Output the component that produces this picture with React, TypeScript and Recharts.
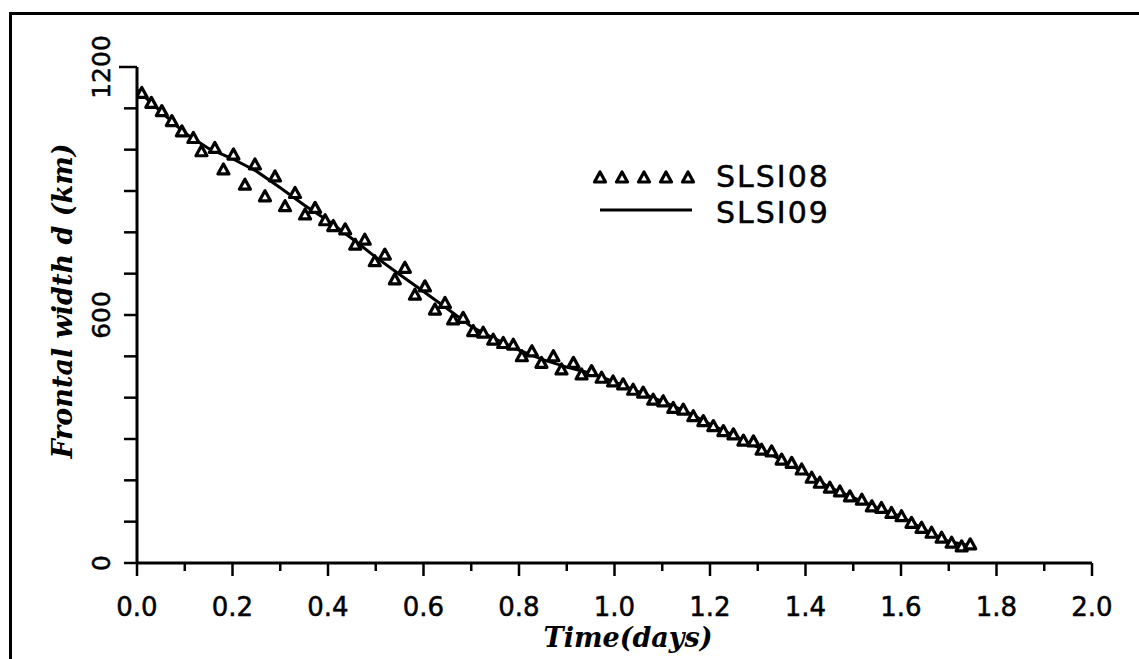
import React from 'react';
import { ComposedChart, Line, Scatter, XAxis, YAxis } from 'recharts';

// SLSI08 (triangles): time (days) and frontal width (km)
const slsi08Time = [0.01, 0.03, 0.052, 0.073, 0.094, 0.118, 0.135, 0.163, 0.181, 0.202, 0.226, 0.247, 0.268, 0.289, 0.31, 0.331, 0.352, 0.373, 0.394, 0.411, 0.436, 0.457, 0.477, 0.498, 0.519, 0.54, 0.561, 0.582, 0.603, 0.624, 0.645, 0.662, 0.683, 0.704, 0.725, 0.746, 0.767, 0.788, 0.806, 0.827, 0.847, 0.872, 0.889, 0.914, 0.931, 0.952, 0.973, 0.997, 1.018, 1.039, 1.06, 1.081, 1.102, 1.123, 1.144, 1.165, 1.186, 1.207, 1.228, 1.249, 1.27, 1.291, 1.308, 1.329, 1.35, 1.371, 1.392, 1.413, 1.43, 1.451, 1.472, 1.493, 1.518, 1.539, 1.559, 1.58, 1.601, 1.622, 1.643, 1.664, 1.685, 1.706, 1.727, 1.745];
const slsi08Width = [1136, 1112, 1092, 1068, 1043, 1027, 995, 1003, 951, 987, 914, 963, 886, 934, 862, 894, 842, 858, 828, 814, 806, 769, 781, 729, 745, 685, 713, 648, 668, 612, 628, 588, 592, 560, 556, 539, 531, 527, 499, 511, 483, 499, 467, 483, 455, 463, 447, 438, 431, 418, 411, 394, 390, 374, 370, 354, 342, 330, 318, 310, 295, 293, 273, 269, 249, 241, 225, 205, 193, 181, 172, 160, 152, 136, 132, 120, 112, 96, 84, 72, 60, 48, 39, 44];

// SLSI09 (solid line)
const slsi09Time = [0, 0.05, 0.1, 0.15, 0.2, 0.25, 0.3, 0.35, 0.4, 0.45, 0.5, 0.55, 0.6, 0.65, 0.7, 0.75, 0.8, 0.85, 0.9, 0.95, 1.0, 1.05, 1.1, 1.15, 1.2, 1.25, 1.3, 1.35, 1.4, 1.45, 1.5, 1.55, 1.6, 1.65, 1.7, 1.745];
const slsi09Width = [1145, 1092, 1040, 1003, 978, 948, 908, 866, 828, 785, 740, 698, 657, 615, 572, 542, 515, 492, 474, 459, 438, 414, 391, 366, 336, 308, 280, 249, 217, 183, 158, 134, 112, 80, 52, 42];

const xTicks = [0, 0.1, 0.2, 0.3, 0.4, 0.5, 0.6, 0.7, 0.8, 0.9, 1.0, 1.1, 1.2, 1.3, 1.4, 1.5, 1.6, 1.7, 1.8, 1.9, 2.0];
const yTicks = [0, 100, 200, 300, 400, 500, 600, 700, 800, 900, 1000, 1100, 1200];
const yLabelled = [0, 600, 1200];
const seriesNames = ['SLSI08', 'SLSI09'];

const slsi08 = slsi08Time.map((t, i) => ({ t, v: slsi08Width[i] }));
const slsi09 = slsi09Time.map((t, i) => ({ t, v: slsi09Width[i] }));

const SANS = '"DejaVu Sans", sans-serif';
const SERIF = '"DejaVu Serif", serif';

const Tri = (props: any) => {
  const { cx, cy } = props;
  if (cx == null || cy == null) return null;
  return (
    <polygon
      points={`${cx},${cy - 6} ${cx - 5.5},${cy + 4} ${cx + 5.5},${cy + 4}`}
      fill="#fff"
      stroke="#000"
      strokeWidth={3.2}
      strokeLinejoin="round"
    />
  );
};

const XTick = (props: any) => {
  const { x, y, payload } = props;
  const v = payload.value as number;
  const major = Math.round(v * 10) % 2 === 0;
  return (
    <g>
      <line x1={x} y1={y} x2={x} y2={y + (major ? 13 : 8)} stroke="#000" strokeWidth={2.5} />
      {major && (
        <text x={x} y={y + 53} textAnchor="middle" fontFamily={SANS} fontSize={26} fill="#000" stroke="#000" strokeWidth={0.5}>
          {v.toFixed(1)}
        </text>
      )}
    </g>
  );
};

const YTick = (props: any) => {
  const { x, y, payload } = props;
  const v = payload.value as number;
  const lab = yLabelled.includes(v);
  const long = v === 1200;
  const tx = x - 27;
  return (
    <g>
      <line x1={x} y1={y} x2={x - (long ? 18 : 13)} y2={y} stroke="#000" strokeWidth={2.5} />
      {lab && (
        <text
          x={tx}
          y={y}
          textAnchor="middle"
          fontFamily={SANS}
          fontSize={25}
          fill="#000"
          stroke="#000"
          strokeWidth={0.5}
          transform={`rotate(-90, ${tx}, ${y})`}
        >
          {v}
        </text>
      )}
    </g>
  );
};

const LegendBox = () => (
  <svg width={260} height={75} style={{ position: 'absolute', left: 585, top: 160, overflow: 'visible' }}>
    {[15, 37, 59, 81, 103].map((cx) => (
      <Tri key={cx} cx={cx} cy={18} />
    ))}
    <text x={131} y={27} fontFamily={SANS} fontSize={30} letterSpacing={2} fill="#000" stroke="#000" strokeWidth={0.5}>
      {seriesNames[0]}
    </text>
    <line x1={15} y1={50} x2={107} y2={50} stroke="#000" strokeWidth={2.8} />
    <text x={131} y={63} fontFamily={SANS} fontSize={30} letterSpacing={2} fill="#000" stroke="#000" strokeWidth={0.5}>
      {seriesNames[1]}
    </text>
  </svg>
);

export default function App() {
  return (
    <div
      style={{
        position: 'absolute',
        left: 0,
        top: 0,
        width: 1139,
        height: 659,
        background: '#fff',
        overflow: 'hidden',
      }}
    >
      <div
        style={{
          position: 'absolute',
          left: 9,
          top: 12,
          width: 1139,
          height: 659,
          borderTop: '3px solid #000',
          borderLeft: '3px solid #000',
        }}
      />
      <div style={{ position: 'absolute', left: 0, top: 0 }}>
        <ComposedChart
          width={1139}
          height={659}
          margin={{ top: 67, right: 47, bottom: 36, left: 77 }}
        >
          <XAxis
            type="number"
            dataKey="t"
            domain={[0, 2]}
            ticks={xTicks}
            interval={0}
            height={60}
            tickLine={false}
            tickSize={0}
            tickMargin={0}
            axisLine={{ stroke: '#000', strokeWidth: 3 }}
            tick={<XTick />}
            allowDataOverflow
          />
          <YAxis
            type="number"
            dataKey="v"
            domain={[0, 1200]}
            ticks={yTicks}
            interval={0}
            width={60}
            tickLine={false}
            tickSize={0}
            tickMargin={0}
            axisLine={{ stroke: '#000', strokeWidth: 3 }}
            tick={<YTick />}
            allowDataOverflow
          />
          <Line
            data={slsi09}
            dataKey="v"
            name={seriesNames[1]}
            type="linear"
            stroke="#000"
            strokeWidth={3}
            dot={false}
            isAnimationActive={false}
          />
          <Scatter
            data={slsi08}
            dataKey="v"
            name={seriesNames[0]}
            shape={<Tri />}
            isAnimationActive={false}
          />
        </ComposedChart>
      </div>
      <LegendBox />
      <div
        style={{
          position: 'absolute',
          left: 628,
          top: 637,
          transform: 'translate(-50%, -50%)',
          fontFamily: SERIF,
          fontWeight: 'bold',
          fontStyle: 'italic',
          fontSize: 27,
          whiteSpace: 'nowrap',
          lineHeight: 1,
        }}
      >
        Time(days)
      </div>
      <div
        style={{
          position: 'absolute',
          left: 62,
          top: 301,
          transform: 'translate(-50%, -50%) rotate(-90deg)',
          fontFamily: SERIF,
          fontWeight: 'bold',
          fontStyle: 'italic',
          fontSize: 27,
          whiteSpace: 'nowrap',
          lineHeight: 1,
        }}
      >
        Frontal width d (km)
      </div>
    </div>
  );
}
